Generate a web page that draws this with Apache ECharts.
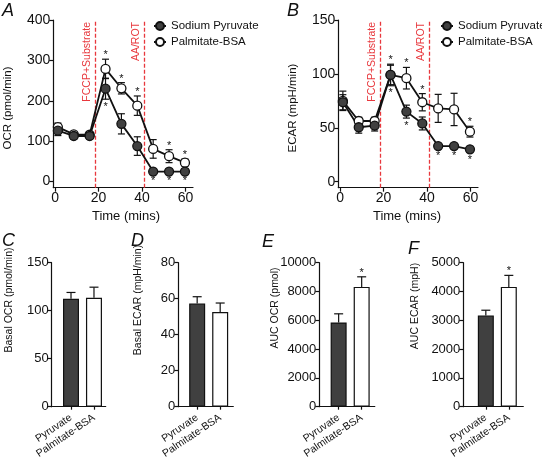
<!DOCTYPE html>
<html>
<head>
<meta charset="utf-8">
<script src="https://cdn.jsdelivr.net/npm/echarts@6/dist/echarts.min.js"></script>
<style>
html,body{margin:0;padding:0;background:#fff;}
#chart{width:542px;height:469px;}
</style>
</head>
<body>
<div id="chart"></div>
<script>
// ---- data ----
const times = [1.3, 8.6, 15.9, 23.2, 30.5, 37.8, 45.1, 52.4, 59.7];
const injections = [18.4, 40.9];
const injectionLabels = ['FCCP+Substrate', 'AA/ROT'];
const seriesNames = ['Sodium Pyruvate', 'Palmitate-BSA'];

const ocrPyr    = [126, 113, 113, 230, 143, 88, 25, 25, 25];
const ocrPyrErr = [12, 8, 8, 26, 25, 23, 3, 3, 3];
const ocrPal    = [135, 117, 116, 279, 231, 188, 81, 63, 47];
const ocrPalErr = [10, 6, 6, 24, 14, 24, 23, 16, 9];
const ocrPyrStar = [0, 0, 0, 1, 0, 0, 1, 1, 1];
const ocrPalStar = [0, 0, 0, 1, 1, 1, 0, 1, 1];

const ecarPyr    = [73.7, 50.5, 52, 99, 65, 54, 33, 33, 30];
const ecarPyrErr = [7, 5.5, 5, 9, 6, 6, 2, 2, 2];
const ecarPal    = [75, 56.3, 56.3, 99, 96, 73.7, 68, 67, 46.4];
const ecarPalErr = [9, 3.5, 3.5, 10, 10, 8, 13, 15, 5];
const ecarPyrStar = [0, 0, 0, 1, 1, 0, 1, 1, 1];
const ecarPalStar = [0, 0, 0, 1, 1, 1, 0, 0, 1];

const groups = ['Pyruvate', 'Palmitate-BSA'];
const basalOcr = [112.5, 113.5];   const basalOcrErr = [6.5, 11];
const basalEcar = [57.3, 52.6];    const basalEcarErr = [3.8, 5];
const aucOcr = [5850, 8320];       const aucOcrErr = [600, 700];
const aucEcar = [3170, 4160];      const aucEcarErr = [180, 400];
const aucStar = [0, 1];

const ocrTicks = [0, 100, 200, 300, 400];
const ecarTicks = [0, 50, 100, 150];
const timeTicks = [0, 20, 40, 60];
const basalOcrTicks = [0, 50, 100, 150];
const basalEcarTicks = [0, 20, 40, 60, 80];
const aucOcrTicks = [0, 2000, 4000, 6000, 8000, 10000];
const aucEcarTicks = [0, 1000, 2000, 3000, 4000, 5000];

// ---- styling ----
const FONT = "'Liberation Sans', Arial, Helvetica, sans-serif";
const INK = '#111';
const DARK = '#404040';
const RED = '#e8383d';

function valAxis(idx, min, max, ticks, fontSize, extra) {
  return Object.assign({
    type: 'value', gridIndex: idx, min: min, max: max,
    axisLine: {show: true, onZero: false, lineStyle: {color: INK, width: 1.2}},
    axisTick: {show: true, length: 4, lineStyle: {color: INK, width: 1.2}, customValues: ticks},
    axisLabel: {show: true, color: INK, fontSize: fontSize, fontFamily: FONT, margin: 3,
      customValues: ticks, formatter: v => String(v)},
    splitLine: {show: false}
  }, extra || {});
}

function errBars(idx, xs, ys, errs, cap, upOnly) {
  return {
    type: 'custom', xAxisIndex: idx, yAxisIndex: idx, z: upOnly ? 3 : 1, silent: true,
    data: xs.map((x, i) => [x, ys[i], errs[i]]),
    renderItem: function (params, api) {
      const x = api.value(0), y = api.value(1), e = api.value(2);
      const top = api.coord([x, y + e]);
      const bot = api.coord([x, upOnly ? y : y - e]);
      const w = cap / 2;
      const st = {stroke: INK, lineWidth: 1.2};
      const ch = [
        {type: 'line', shape: {x1: top[0], y1: top[1], x2: bot[0], y2: bot[1]}, style: st},
        {type: 'line', shape: {x1: top[0] - w, y1: top[1], x2: top[0] + w, y2: top[1]}, style: st}
      ];
      if (!upOnly) ch.push({type: 'line', shape: {x1: bot[0] - w, y1: bot[1], x2: bot[0] + w, y2: bot[1]}, style: st});
      return {type: 'group', children: ch};
    }
  };
}

function stars(idx, xs, ys, errs, flags, dir) {
  return {
    type: 'custom', xAxisIndex: idx, yAxisIndex: idx, z: 4, silent: true,
    data: xs.map((x, i) => [x, ys[i], errs[i], flags[i]]).filter(d => d[3]),
    renderItem: function (params, api) {
      const x = api.value(0), y = api.value(1), e = api.value(2);
      const p = api.coord([x, y + dir * e]);
      return {type: 'text', x: p[0], y: p[1] - dir * 6 + 2,
        style: {text: '*', fontSize: 11, fontFamily: FONT, fill: INK, align: 'center', verticalAlign: 'middle'}};
    }
  };
}

function lineSeries(idx, name, xs, ys, filled, withMark) {
  const s = {
    type: 'line', name: name, xAxisIndex: idx, yAxisIndex: idx, z: 3,
    data: xs.map((x, i) => [x, ys[i]]),
    symbol: 'circle', symbolSize: 9, showSymbol: true,
    lineStyle: {color: INK, width: 1.8},
    itemStyle: {color: filled ? DARK : '#fff', borderColor: INK, borderWidth: 1.3},
    emphasis: {disabled: true}
  };
  if (withMark) {
    s.markLine = {
      symbol: 'none', silent: true, z: 1,
      lineStyle: {color: RED, type: [4, 2], width: 1.3},
      label: {show: true, position: 'insideEndTop', formatter: '{b}', color: RED, fontSize: 10.5, fontFamily: FONT, distance: 2},
      data: injections.map((x, i) => ({xAxis: x, name: injectionLabels[i]}))
    };
  }
  return s;
}

function barSeries(idx, vals) {
  return {
    type: 'bar', xAxisIndex: idx, yAxisIndex: idx, barWidth: 16, z: 2,
    data: vals.map((v, i) => ({value: [i + 1, v], itemStyle: {color: i === 0 ? DARK : '#fff'}})),
    itemStyle: {borderColor: INK, borderWidth: 1.2},
    emphasis: {disabled: true}
  };
}

function barXAxis(idx, min, max) {
  return valAxis(idx, min, max, [1, 2], 10.5, {
    axisLabel: {show: true, color: INK, fontSize: 10.5, fontFamily: FONT, margin: 10, rotate: 34,
      customValues: [1, 2], formatter: v => groups[Math.round(v) - 1]},
    axisTick: {show: true, length: 3, lineStyle: {color: INK, width: 1.2}, customValues: [1, 2]}
  });
}

const grids = [
  {left: 53.3, top: 20, width: 139.7, height: 167.7},
  {left: 338.3, top: 20, width: 139.7, height: 167.7},
  {left: 51.7, top: 262.7, width: 54, height: 144},
  {left: 178.3, top: 262.7, width: 55, height: 144},
  {left: 319.3, top: 262.7, width: 55.5, height: 144},
  {left: 463.3, top: 262.7, width: 60, height: 144}
];

const xAxes = [
  valAxis(0, -0.8, 63.4, timeTicks, 14),
  valAxis(1, -0.8, 63.4, timeTicks, 14),
  barXAxis(2, 0.16, 2.51),
  barXAxis(3, 0.18, 2.57),
  barXAxis(4, 0.16, 2.57),
  barXAxis(5, 0.02, 2.63)
];
const yAxes = [
  valAxis(0, -15, 400, ocrTicks, 14),
  valAxis(1, -5.6, 150, ecarTicks, 14),
  valAxis(2, 0, 150, basalOcrTicks, 13),
  valAxis(3, 0, 80, basalEcarTicks, 13),
  valAxis(4, 0, 10000, aucOcrTicks, 13),
  valAxis(5, 0, 5000, aucEcarTicks, 13)
];

const series = [
  errBars(0, times, ocrPal, ocrPalErr, 7, false),
  errBars(0, times, ocrPyr, ocrPyrErr, 7, false),
  lineSeries(0, seriesNames[1], times, ocrPal, false, true),
  lineSeries(0, seriesNames[0], times, ocrPyr, true, false),
  stars(0, times, ocrPal, ocrPalErr, ocrPalStar, 1),
  stars(0, times, ocrPyr, ocrPyrErr, ocrPyrStar, -1),

  errBars(1, times, ecarPal, ecarPalErr, 7, false),
  errBars(1, times, ecarPyr, ecarPyrErr, 7, false),
  lineSeries(1, seriesNames[1], times, ecarPal, false, true),
  lineSeries(1, seriesNames[0], times, ecarPyr, true, false),
  stars(1, times, ecarPal, ecarPalErr, ecarPalStar, 1),
  stars(1, times, ecarPyr, ecarPyrErr, ecarPyrStar, -1),

  barSeries(2, basalOcr), errBars(2, [1, 2], basalOcr, basalOcrErr, 9, true),
  barSeries(3, basalEcar), errBars(3, [1, 2], basalEcar, basalEcarErr, 9, true),
  barSeries(4, aucOcr), errBars(4, [1, 2], aucOcr, aucOcrErr, 9, true),
  stars(4, [1, 2], aucOcr, aucOcrErr, aucStar, 1),
  barSeries(5, aucEcar), errBars(5, [1, 2], aucEcar, aucEcarErr, 9, true),
  stars(5, [1, 2], aucEcar, aucEcarErr, aucStar, 1)
];

function legendAt(left) {
  return {
    left: left, top: 15, orient: 'vertical', itemWidth: 12, itemHeight: 10, itemGap: 4,
    selectedMode: false,
    textStyle: {fontSize: 11.5, color: INK, fontFamily: FONT},
    data: seriesNames
  };
}

function txt(x, y, text, size, opts) {
  return Object.assign({
    type: 'text', x: x, y: y,
    style: {text: text, fontSize: size, fontFamily: FONT, fill: INK, align: 'center', verticalAlign: 'middle'}
  }, opts || {});
}
function vtxt(x, y, text, size) {
  return txt(x, y, text, size, {rotation: Math.PI / 2});
}
function letter(x, y, t) {
  return {type: 'text', x: x, y: y,
    style: {text: t, fontSize: 18, fontStyle: 'italic', fontFamily: FONT, fill: INK, align: 'left', verticalAlign: 'top'}};
}

const option = {
  animation: false,
  textStyle: {fontFamily: FONT},
  grid: grids,
  xAxis: xAxes,
  yAxis: yAxes,
  legend: [legendAt(148), legendAt(435)],
  series: series,
  graphic: [
    letter(2, 2, 'A'), letter(287, 2, 'B'),
    letter(2, 232, 'C'), letter(131, 232, 'D'), letter(262, 233, 'E'), letter(408, 240, 'F'),
    vtxt(8, 108, 'OCR (pmol/min)', 11.5),
    vtxt(293, 108, 'ECAR (mpH/min)', 11.5),
    txt(126, 216, 'Time (mins)', 13),
    txt(407, 216, 'Time (mins)', 13),
    vtxt(9, 300, 'Basal OCR (pmol/min)', 10.5),
    vtxt(138, 300, 'Basal ECAR (mpH/min)', 10.5),
    vtxt(275, 308, 'AUC OCR (pmol)', 10.5),
    vtxt(415, 306, 'AUC ECAR (mpH)', 10.5)
  ]
};

const chart = echarts.init(document.getElementById('chart'), null, {renderer: 'canvas'});
chart.setOption(option);
</script>
</body>
</html>
